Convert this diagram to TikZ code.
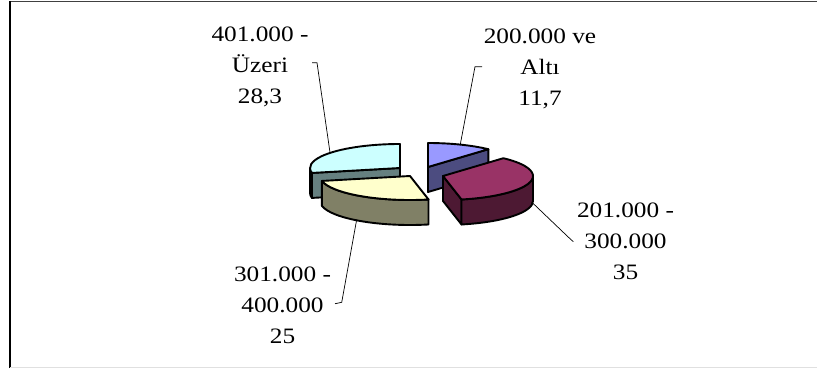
\documentclass[tikz,border=0pt]{standalone}
\usepackage{fontspec}
\setmainfont{Liberation Serif}[FakeStretch=1.15]
\usetikzlibrary{calc}

\definecolor{blueTop}{HTML}{9999FF}
\definecolor{blueSide}{HTML}{4C4C80}
\definecolor{redTop}{HTML}{993366}
\definecolor{redSide}{HTML}{4D1933}
\definecolor{yellowTop}{HTML}{FFFFCC}
\definecolor{yellowSide}{HTML}{808066}
\definecolor{cyanTop}{HTML}{CCFFFF}
\definecolor{cyanSide}{HTML}{668080}

\begin{document}
\begin{tikzpicture}[x=1pt,y=1pt,
  slice/.style={draw=black,line width=1.9pt,line join=round},
  leader/.style={draw=black,line width=0.7pt},
  lbl/.style={align=center,font=\fontsize{22}{31}\selectfont,anchor=base}]
  \useasboundingbox (0,0) rectangle (817,368);
  % frame
  \draw[black!75,line width=1.5pt] (10,366.5) -- (817,366.5);
  \draw[black,line width=1.2pt] (10,0) -- (10,367);
  \draw[black!12,line width=1pt] (10,0.6) -- (817,0.6);

  % 401.000 - Uzeri (back left)
  \begin{scope}[shift={(400,200)}]
    \draw[slice,fill=cyanSide] (0,0) -- (191.88:90 and 24) -- ++(0,-25) -- (0,-25) -- cycle;
    \draw[slice,fill=cyanSide] (180:90 and 24) arc[start angle=180,end angle=191.88,x radius=90,y radius=24]
      -- ++(0,-25) arc[start angle=191.88,end angle=180,x radius=90,y radius=24] -- cycle;
    \draw[slice,fill=cyanTop] (0,0) -- (90:90 and 24) arc[start angle=90,end angle=191.88,x radius=90,y radius=24] -- cycle;
    \coordinate (cyanTip) at (141:90 and 24);
  \end{scope}

  % 200.000 ve Alti (back right)
  \begin{scope}[shift={(428,201)}]
    \draw[slice,fill=blueSide] (0,0) -- (47.88:90 and 24) -- ++(0,-25) -- (0,-25) -- cycle;
    \draw[slice,fill=blueTop] (0,0) -- (90:90 and 24) arc[start angle=90,end angle=47.88,x radius=90,y radius=24] -- cycle;
    \coordinate (blueTip) at (69:90 and 24);
  \end{scope}

  % 301.000 - 400.000 (front left)
  \begin{scope}[shift={(410,192)}]
    \draw[slice,fill=yellowSide] (-168.12:90 and 24) arc[start angle=-168.12,end angle=-78.12,x radius=90,y radius=24]
      -- ++(0,-25) arc[start angle=-78.12,end angle=-168.12,x radius=90,y radius=24] -- cycle;
    \draw[slice,fill=yellowTop] (0,0) -- (-78.12:90 and 24) arc[start angle=-78.12,end angle=-168.12,x radius=90,y radius=24] -- cycle;
    \coordinate (yellowTip) at ($(-126.3:90 and 24)+(0,-24)$);
  \end{scope}

  % 201.000 - 300.000 (front right)
  \begin{scope}[shift={(443,192)}]
    \draw[slice,fill=redSide] (0,0) -- (-78.12:90 and 24) -- ++(0,-25) -- (0,-25) -- cycle;
    \draw[slice,fill=redSide] (-78.12:90 and 24) arc[start angle=-78.12,end angle=0,x radius=90,y radius=24]
      -- ++(0,-25) arc[start angle=0,end angle=-78.12,x radius=90,y radius=24] -- cycle;
    \draw[slice,fill=redTop] (0,0) -- (47.88:90 and 24) arc[start angle=47.88,end angle=-78.12,x radius=90,y radius=24] -- cycle;
    \coordinate (redTip) at ($(-9.8:90 and 24)+(0,-22)$);
  \end{scope}

  % labels (base = last line)
  \node[lbl] (lblCyan) at (260,265) {401.000 -\\Üzeri\\28,3};
  \node[lbl] (lblBlue) at (540,263) {200.000 ve\\Altı\\11,7};
  \node[lbl] (lblRed) at (625.5,89) {201.000 -\\300.000\\35};
  \node[lbl] (lblYellow) at (282.5,25) {301.000 -\\400.000\\25};

  % leaders
  \coordinate (cyanEnd) at (312,305.3);
  \coordinate (blueEnd) at (482,301.3);
  \coordinate (redEnd) at (573.3,126.3);
  \coordinate (yellowEnd) at (335,64.3);
  \draw[leader] (cyanEnd) -- ++(5,0) -- (cyanTip);
  \draw[leader] (blueEnd) -- ++(-7,0) -- (blueTip);
  \draw[leader] (redTip) -- ++(36.6,-35) -- (redEnd);
  \draw[leader] (yellowTip) -- ++(-15,-83) -- (yellowEnd);
\end{tikzpicture}
\end{document}
